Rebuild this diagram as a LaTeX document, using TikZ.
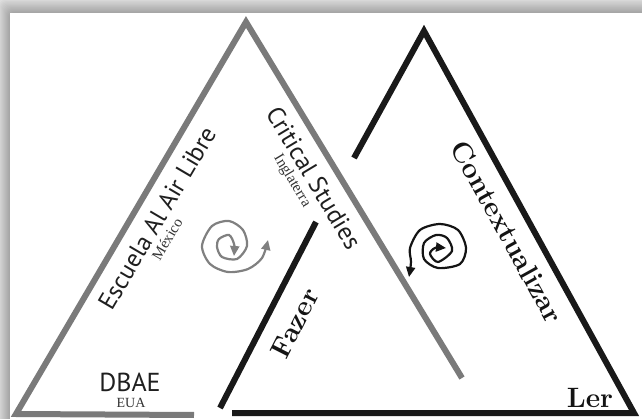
\documentclass[tikz,border=0pt]{standalone}
\usepackage{fontspec}
\newfontfamily\ptsans{PT Sans}
\newfontfamily\libserif{Liberation Serif}
\usetikzlibrary{arrows.meta}
\tikzset{
  gedge/.style={line width=6pt,draw=black!52,line join=miter},
  bedge/.style={line width=6pt,draw=black!90,line join=miter},
  gspiral/.style={line width=2.2pt,draw=black!50,arrows={Triangle[length=10pt,width=9pt]-Triangle[length=10pt,width=9pt]}},
  bspiral/.style={line width=2.2pt,draw=black!92,arrows={Triangle[length=10pt,width=9pt]-Triangle[length=10pt,width=9pt]}},
  sanslab/.style={font=\ptsans\fontsize{25}{27}\selectfont,text=black!88,inner sep=0pt},
  seriflab/.style={font=\libserif\fontsize{15}{16}\selectfont,text=black!80,inner sep=0pt},
  boldlab/.style={font=\bfseries\fontsize{28}{30}\selectfont,text=black!92,inner sep=0pt}
}
\begin{document}
\begin{tikzpicture}[x=1pt,y=-1pt]
  \useasboundingbox (0,0) rectangle (642,419);
  % shadow frame
  \fill[black!13] (0,0) rectangle (642,419);
  \foreach \i in {0,...,10}
    \fill[black,fill opacity=.025,rounded corners=6pt] (\i-1,1.2*\i) rectangle (660,440);
  \fill[white] (10,13) rectangle (660,440);

  % corners
  \coordinate (gtop) at (246,22);
  \coordinate (gleft) at (16,414);
  \coordinate (gbot) at (194,415);
  \coordinate (gend) at (462,378);
  \coordinate (btop) at (424,31);
  \coordinate (bstart) at (354,158);
  \coordinate (bright) at (634,413);
  \coordinate (bbot) at (232,413);
  \coordinate (ftop) at (316,222);
  \coordinate (fbot) at (220,408);

  \draw[gedge] (gbot) -- (gleft) -- (gtop) -- (gend);
  \draw[bedge] (bstart) -- (btop) -- (bright) -- (bbot);
  \draw[bedge] (ftop) -- (fbot);

  % spirals
  \draw[gspiral] plot[smooth] coordinates {(234,256) (234,244) (229,235) (219,239) (217,247)
    (222,257) (237,259) (247,246) (243,230) (229,221) (212,226) (202,246) (210,264)
    (228,272) (248,269) (262,258) (268,240)};
  \draw[bspiral] plot[smooth] coordinates {(446,248) (435,248) (430,254) (438,262) (452,251)
    (447,238) (436,235) (424,243) (424,259) (438,268) (460,264) (466,248) (458,230)
    (440,224) (420,230) (410,248) (411,262) (409,277)};

  % labels
  \node[sanslab,rotate=59.5] (escuela) at (157,218) {Escuela Al Air Libre};
  \node[seriflab,rotate=59.5] (mexico) at (167,239) {México};
  \node[sanslab,rotate=-59] (critical) at (314,178) {Critical Studies};
  \node[seriflab,rotate=-59] (inglaterra) at (292,181) {Inglaterra};
  \node[sanslab,font=\ptsans\fontsize{26}{28}\selectfont] (dbae) at (130,382) {DBAE};
  \node[seriflab,font=\libserif\fontsize{14}{15}\selectfont] (eua) at (131,403) {EUA};
  \node[boldlab,rotate=63] (fazer) at (295,323) {Fazer};
  \node[boldlab,rotate=-61] (context) at (507,232) {Contextualizar};
  \node[boldlab] (ler) at (590,398) {Ler};
\end{tikzpicture}
\end{document}
